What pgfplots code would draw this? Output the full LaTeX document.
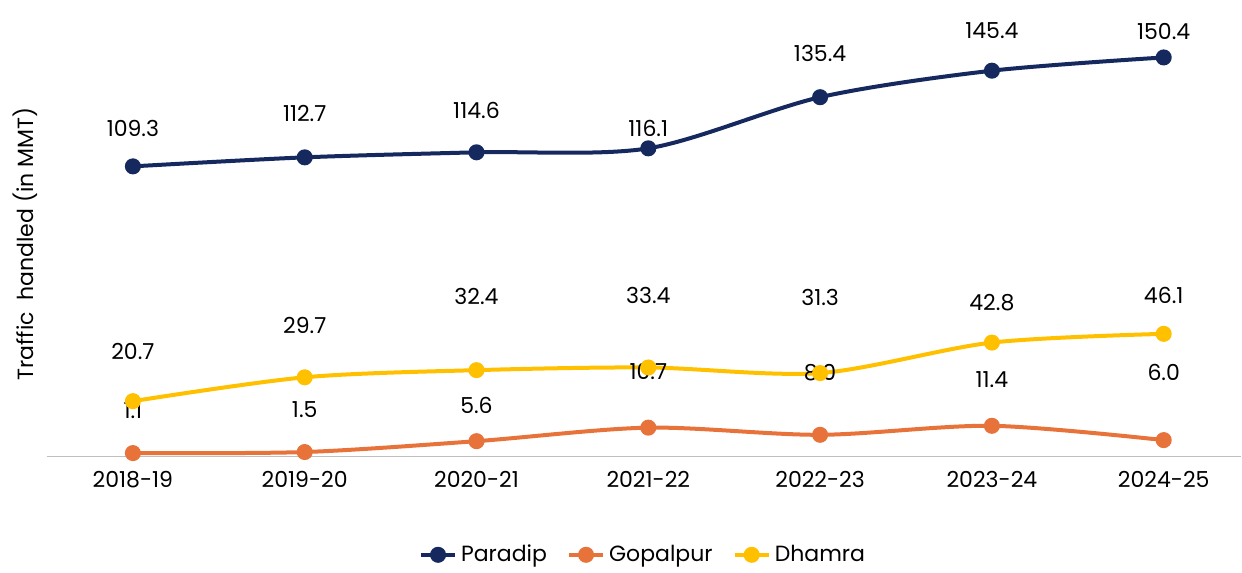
\documentclass[border=0pt]{standalone}
\usepackage{pgfplots}
\pgfplotsset{compat=1.18}
\usepackage{pgfplotstable}
\usepackage{fontspec}
\setmainfont{Poppins}
\definecolor{navy}{HTML}{15295F}
\definecolor{org}{HTML}{E8733A}
\definecolor{yel}{HTML}{FFC000}
\pgfplotstableread{
x y dy lab
0 109.3 19 109.3
1 112.7 22 112.7
2 114.6 21 114.6
3 116.1 10 116.1
4 135.4 22 135.4
5 145.4 20 145.4
6 150.4 13 150.4
}\para
\pgfplotstableread{
x y dy lab
0 1.1 21 1.1
1 1.5 21 1.5
2 5.6 18 5.6
3 10.7 28 10.7
4 8.0 31 8.0
5 11.4 23 11.4
6 6.0 34 6.0
}\gopa
\pgfplotstableread{
x y dy lab
0 20.7 25 20.7
1 29.7 26 29.7
2 32.4 37 32.4
3 33.4 36 33.4
4 31.3 38 31.3
5 42.8 20 42.8
6 46.1 19 46.1
}\dham
\begin{document}
\fontsize{11}{13}\selectfont
\begin{tikzpicture}
\begin{axis}[
 scale only axis, width=597pt, height=212pt,
 xmin=-0.5, xmax=6.45, ymin=0, ymax=160,
 axis x line*=bottom, axis y line=none,
 x axis line style={draw=gray!50, -},
 xtick={0,...,6}, xticklabels={2018-19,2019-20,2020-21,2021-22,2022-23,2023-24,2024-25},
 major tick length=0pt, xticklabel style={yshift=-4pt},
 clip=false,
 every axis plot/.append style={line width=2pt, smooth, tension=0.5, mark=*, mark size=3pt,
   nodes near coords, point meta=explicit symbolic,
   visualization depends on={\thisrow{dy}\as\dy},
   every node near coord/.style={anchor=center, yshift=\dy pt, text=black, font=\fontsize{11}{13}\selectfont}},
 legend style={at={(0.5,-0.233)}, anchor=center, draw=none, legend columns=-1,
   /tikz/every even column/.append style={column sep=8pt}},
 legend image code/.code={\draw[#1, line width=2pt] (0cm,0cm) -- (0.6cm,0cm); \fill[#1] (0.3cm,0cm) circle (3pt);},
]
\addplot[color=navy, mark options={fill=navy}] table[x=x,y=y,meta=lab] {\para};
\addplot[color=org, mark options={fill=org}] table[x=x,y=y,meta=lab] {\gopa};
\addplot[color=yel, mark options={fill=yel}] table[x=x,y=y,meta=lab] {\dham};
\legend{Paradip,Gopalpur,Dhamra}
\node[rotate=90] at ([xshift=-11pt]rel axis cs:0,0.5) {Traffic\ \ handled (in MMT)};
\end{axis}
\useasboundingbox ([xshift=-23.5pt, yshift=16pt]current axis.north west) rectangle ([xshift=0.5pt, yshift=-57pt]current axis.south east);
\end{tikzpicture}
\end{document}
